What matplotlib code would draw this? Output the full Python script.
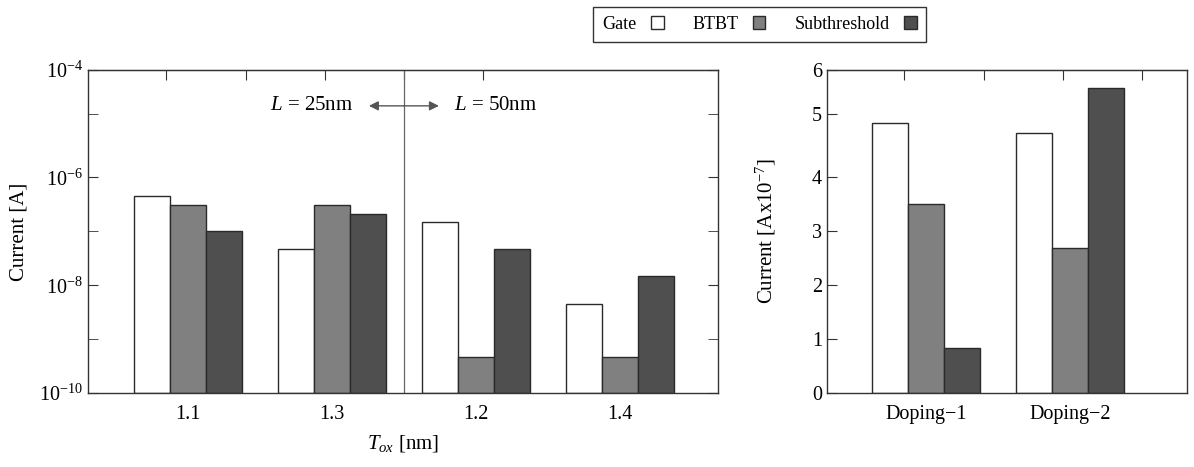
"""
Leakage current components: log-scale comparison over T_ox (left)
and linear comparison for two doping profiles (right).
"""
import numpy as np
import matplotlib.pyplot as plt
from matplotlib.patches import Patch

plt.rcParams['font.family'] = ['Liberation Serif', 'DejaVu Serif']
plt.rcParams['mathtext.fontset'] = 'custom'
plt.rcParams['mathtext.rm'] = 'Liberation Serif'
plt.rcParams['mathtext.it'] = 'Liberation Serif:italic'

# data
TOX = ['1.1', '1.3', '1.2', '1.4']
gate = [4.6e-7, 4.7e-8, 1.5e-7, 4.6e-9]
btbt = [3.1e-7, 3.1e-7, 4.6e-10, 4.6e-10]
subth = [1.0e-7, 2.1e-7, 4.7e-8, 1.5e-8]

DOPING = ['Doping\u22121', 'Doping\u22122']
gate_d = [4.86, 4.71]
btbt_d = [3.50, 2.69]
subth_d = [0.83, 5.59]

SERIES = ['Gate', 'BTBT', 'Subthreshold']
COLORS = ['white', '#808080', '#4f4f4f']
EDGE = '#2a2a2a'

# the scanned figure has uneven tick spacing, same on both panels
LOG_TICKS = np.arange(-10, -3)
LIN_TICKS = np.arange(0, 7)
TICK_FRAC = np.array([0.0, 0.167, 0.333, 0.500, 0.668, 0.863, 1.0])
TOP_TICKS = [-0.15, 0.40, 0.95, 1.50, 2.05]


def log_fwd(v):
    with np.errstate(divide='ignore', invalid='ignore'):
        lv = np.log10(np.clip(v, 1e-300, None))
    return np.interp(lv, LOG_TICKS, TICK_FRAC)


def log_inv(f):
    return 10.0 ** np.interp(f, TICK_FRAC, LOG_TICKS)


def lin_fwd(v):
    return np.interp(v, LIN_TICKS, TICK_FRAC)


def lin_inv(f):
    return np.interp(f, TICK_FRAC, LIN_TICKS)


def draw_bars(ax, groups, values):
    x = np.arange(len(groups))
    w = 0.25
    for i, (vals, col) in enumerate(zip(values, COLORS)):
        ax.bar(x + (i - 1) * w, vals, w, color=col, edgecolor=EDGE, linewidth=1.0)
    ax.set_xticks(x)
    ax.set_xticklabels(groups)


def style_axes(ax, top_ticks, right_ticks):
    for s in ax.spines.values():
        s.set_color('#333333')
        s.set_linewidth(1.0)
    ax.tick_params(axis='x', length=0, pad=9, labelsize=14.5)
    ax.tick_params(axis='y', which='both', direction='in', length=7,
                   right=right_ticks, labelsize=14.5, color='#333333')
    sec = ax.secondary_xaxis('top')
    sec.set_xticks(top_ticks)
    sec.tick_params(direction='in', length=7, labeltop=False, color='#333333')
    sec.spines['top'].set_color('#333333')


fig = plt.figure(figsize=(11.94, 4.67), dpi=100)
ax1 = fig.add_axes([0.0737, 0.1585, 0.5276, 0.6916])
ax2 = fig.add_axes([0.6926, 0.1585, 0.3015, 0.6916])

# left panel: log current vs oxide thickness
ax1.set_yscale('function', functions=(log_fwd, log_inv))
draw_bars(ax1, TOX, [gate, btbt, subth])
ax1.set_xlim(-0.694, 3.681)
ax1.set_ylim(1e-10, 1e-4)
ax1.set_yticks([1e-10, 1e-8, 1e-6, 1e-4],
               labels=[r'$\mathregular{10^{-10}}$', r'$\mathregular{10^{-8}}$',
                       r'$\mathregular{10^{-6}}$', r'$\mathregular{10^{-4}}$'])
ax1.set_yticks([1e-9, 1e-7, 1e-5], minor=True)
style_axes(ax1, TOP_TICKS, True)
ax1.set_ylabel('Current [A]', fontsize=15)
ax1.yaxis.set_label_coords(-0.095, 0.5)
ax1.set_xlabel(r'$T_{ox}$ [nm]', fontsize=15)
ax1.xaxis.set_label_coords(0.5, -0.125)

ax1.axvline(1.5, color='#666666', lw=0.9)
trans = ax1.get_xaxis_transform()
arrow = dict(arrowstyle='-|>', color='#555555', lw=1.0, shrinkA=0, shrinkB=0,
             mutation_scale=14)
ax1.annotate('', xy=(1.257, 0.889), xytext=(1.5, 0.889),
             xycoords=trans, textcoords=trans, arrowprops=arrow)
ax1.annotate('', xy=(1.743, 0.889), xytext=(1.5, 0.889),
             xycoords=trans, textcoords=trans, arrowprops=arrow)
ax1.text(1.146, 0.889, r'$L$ = 25nm', transform=trans, ha='right', va='center', fontsize=15)
ax1.text(1.847, 0.889, r'$L$ = 50nm', transform=trans, ha='left', va='center', fontsize=15)

# right panel: linear current for the two doping profiles
ax2.set_yscale('function', functions=(lin_fwd, lin_inv))
draw_bars(ax2, DOPING, [gate_d, btbt_d, subth_d])
ax2.set_xlim(-0.6875, 1.8125)
ax2.set_ylim(0, 6)
ax2.set_yticks(LIN_TICKS)
ax2.set_yticklabels([str(t) for t in LIN_TICKS])
style_axes(ax2, TOP_TICKS[:4], False)
ax2.set_ylabel(r'Current [Ax10$^{-7}$]', fontsize=15)
ax2.yaxis.set_label_coords(-0.135, 0.5)

handles = [Patch(facecolor=c, edgecolor=EDGE, linewidth=1.0) for c in COLORS]
leg = fig.legend(handles, SERIES, loc='center', bbox_to_anchor=(0.636, 0.9475),
                 ncol=3, markerfirst=False, fancybox=False, framealpha=1,
                 edgecolor='#333333', handlelength=0.7, handleheight=0.7,
                 handletextpad=0.8, columnspacing=1.6, borderpad=0.5, fontsize=13)
leg.get_frame().set_linewidth(1.0)

fig.savefig('out.png', dpi=100)
